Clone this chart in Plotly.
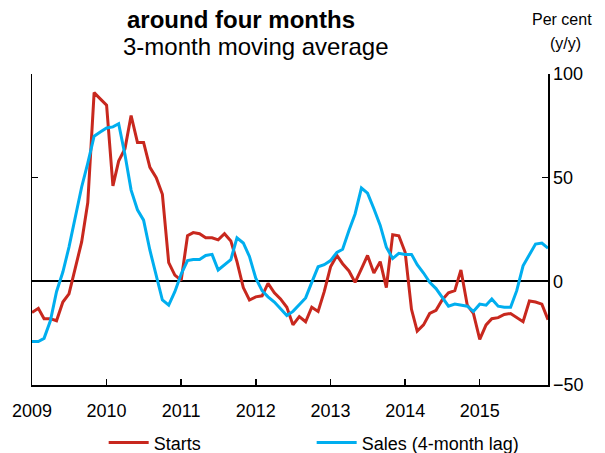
import pandas as pd
import plotly.graph_objects as go

# Monthly data, Jan 2009 - Dec 2015 (per cent, y/y, 3-month moving average)
months = pd.date_range("2009-01-01", "2015-12-01", freq="MS")

starts = [
    -15, -13, -18, -18, -19, -10, -6, 6, 19, 38, 91, 88,      # 2009
    85, 46, 58, 64, 80, 67, 67, 55, 50, 42, 9, 3,              # 2010
    0.5, 22, 23.5, 23, 21, 21, 20, 23, 19.5, 9.5, -3, -9,      # 2011
    -7.5, -7, -1, -5.5, -8.5, -12.5, -21, -17, -19.5, -12.5, -14.5, -5,  # 2012
    7, 12.5, 8.5, 5, -0.5, 6, 12.5, 4, 9.5, -3, 22.5, 22,      # 2013
    14, -13.5, -24, -21, -15.5, -14, -9, -5.5, -4.5, 5.5, -11.5, -15.5,  # 2014
    -28, -21, -18, -17.5, -16, -15.5, -17.5, -19.5, -9.5, -10, -11, -18.5,  # 2015
]

sales = [
    -29, -29, -27.5, -19, -5, 4.5, 16.5, 31, 45.5, 57, 70, 72,   # 2009
    74, 74.5, 76, 61, 44, 34.5, 29.5, 15, 3.5, -9, -11.5, -5,    # 2010
    3.5, 10, 10.5, 10.5, 12.5, 13, 5.5, 8, 10.5, 21, 18.5, 12,   # 2011
    1.5, -4.5, -7.5, -10, -13, -16.5, -14.5, -11.5, -8, -0.5, 7, 8,  # 2012
    10, 14, 15.5, 24.5, 32.5, 45, 42.5, 35, 27, 16.5, 11, 13.5,  # 2013
    13, 13, 8, 4, -0.5, -3.5, -7.5, -12, -11, -11.5, -12, -14.5,  # 2014
    -11, -11.5, -8.5, -12, -12.5, -12.5, -4.5, 7.5, 13, 18, 18.5, 16,  # 2015
]

year_ticks = pd.date_range("2009-01-01", "2015-01-01", freq="YS")
year_labels = [str(d.year) for d in year_ticks]
y_ticks = [-50, 0, 50, 100]

RED = "#C8281E"
BLUE = "#00AEEF"
FONT = "Arial, Liberation Sans, sans-serif"

# full-window figure; the page's default body margin is removed below
W, H = 605, 453
ML, MT = 32, 74
MR, MB = W - 548, H - 385

fig = go.Figure()
fig.add_trace(go.Scatter(x=months, y=starts, mode="lines", name="Starts",
                         line=dict(color=RED, width=3)))
fig.add_trace(go.Scatter(x=months, y=sales, mode="lines", name="Sales (4-month lag)",
                         line=dict(color=BLUE, width=3)))

fig.update_layout(
    width=W, height=H,
    margin=dict(l=ML, r=MR, t=MT, b=MB, autoexpand=False),
    paper_bgcolor="white", plot_bgcolor="white",
    font=dict(family=FONT, size=18, color="black"),
    showlegend=True,
    hovermode=False,
    legend=dict(orientation="h", x=0.542, xanchor="center", y=-0.186, yanchor="middle",
                font=dict(size=18), entrywidth=153, itemwidth=40,
                bgcolor="rgba(0,0,0,0)"),
    xaxis=dict(type="date", range=["2009-01-01", "2015-12-01"],
               tickvals=year_ticks, ticktext=year_labels,
               ticks="inside", ticklen=6, tickwidth=1.5, tickcolor="black",
               showline=True, linecolor="black", linewidth=1.5,
               showgrid=False, zeroline=False, ticklabelstandoff=9,
               tickfont=dict(size=18), automargin=False),
    yaxis=dict(range=[-50, 100], tickvals=y_ticks, side="right",
               ticks="inside", ticklen=6, tickwidth=1.5, tickcolor="black",
               showline=True, linecolor="black", linewidth=1.5, mirror="ticks",
               showgrid=False, zeroline=True, zerolinecolor="black", zerolinewidth=2,
               tickfont=dict(size=18), automargin=False),
)

# text placed by pixel position within the 605x453 window
texts = [
    ("<b>around four months</b>", 241, 19, 24),
    ("3-month moving average", 255, 46, 24),
    ("Per cent", 562, 19, 16),
    ("(y/y)", 565, 43, 16),
]
pw, ph = W - ML - MR, H - MT - MB
for txt, px, py, size in texts:
    fig.add_annotation(text=txt, x=(px - ML) / pw, y=(H - MB - py) / ph,
                       xref="paper", yref="paper", xanchor="center", yanchor="middle",
                       showarrow=False, borderpad=0, font=dict(size=size))

fig.write_html("out.html",
               config={"displayModeBar": False, "staticPlot": True},
               post_script="document.body.style.margin='0';document.body.style.overflow='hidden';")
